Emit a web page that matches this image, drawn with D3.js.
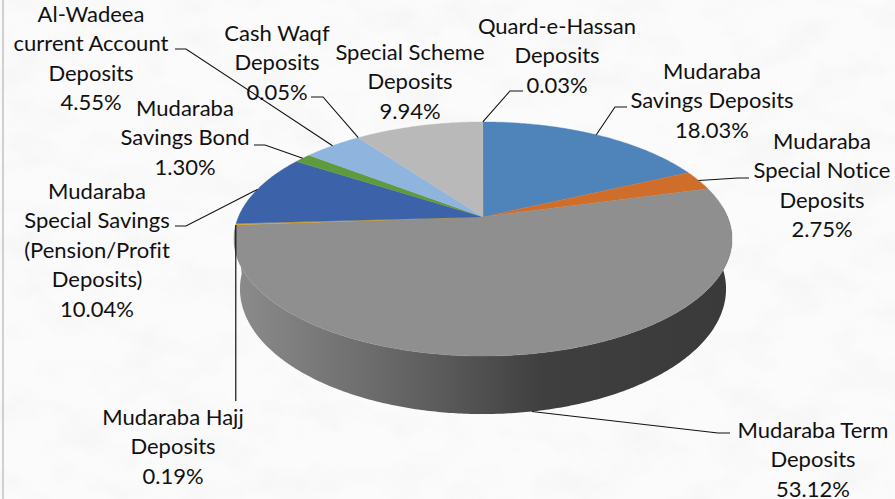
<!DOCTYPE html>
<html>
<head>
<meta charset="utf-8">
<script src="https://cdn.jsdelivr.net/npm/d3@7"></script>
<style>html,body{margin:0;padding:0;background:#fff;overflow:hidden}svg{display:block}text{font-variant-ligatures:none}</style>
</head>
<body>
<svg id="c" width="895" height="499"></svg>
<script>
const categories = ["Mudaraba Savings Deposits","Mudaraba Special Notice Deposits","Mudaraba Term Deposits","Mudaraba Hajj Deposits","Mudaraba Special Savings (Pension/Profit Deposits)","Mudaraba Savings Bond","Al-Wadeea current Account Deposits","Cash Waqf Deposits","Special Scheme Deposits","Quard-e-Hassan Deposits"];
const values = [18.03,2.75,53.12,0.19,10.04,1.30,4.55,0.05,9.94,0.03];
const colors = ["#4f84ba","#cf6e2a","#8f8f8f","#dca21f","#3c63a9","#5f9b3e","#8fb4de","#a9b6c8","#b9b9b9","#b9b9b9"];
const labelLines = [
  ["Mudaraba","Savings Deposits","18.03%"],
  ["Mudaraba","Special Notice","Deposits","2.75%"],
  ["Mudaraba Term","Deposits","53.12%"],
  ["Mudaraba Hajj","Deposits","0.19%"],
  ["Mudaraba","Special Savings","(Pension/Profit","Deposits)","10.04%"],
  ["Mudaraba","Savings Bond","1.30%"],
  ["Al-Wadeea","current Account","Deposits","4.55%"],
  ["Cash Waqf","Deposits","0.05%"],
  ["Special Scheme","Deposits","9.94%"],
  ["Quard-e-Hassan","Deposits","0.03%"]
];
// layout only: label centre x, first-line centre y, leader start x, elbow x, elbow y
const labelLayout = [
  [712,71,627,615,107],
  [822,141,749,738,178],
  [813,430,730,718,433],
  [173,417,null,null,null],
  [97,191,175,186,226],
  [185,108,254,265,145],
  [91,14,175,186,49],
  [277,33,311,323,97],
  [410,52,null,null,null],
  [557,26,523,510,91]
];

const svg = d3.select("#c");
const defs = svg.append("defs");

// Perspective view of a flat disc
const persp = -0.188;
const topRim = {x0:483, y0:217, bx:244.6, by:112.9};
const lowRim = {x0:483, y0:265.4, bx:238.7, by:120.7};
function project(a, rim, r=1){
  const X = r*Math.sin(a), Y = -r*Math.cos(a), w = 1 + persp*Y;
  return [rim.x0 + rim.bx*X/w, rim.y0 + rim.by*Y/w];
}
const pie = d3.pie().sort(null).value(d=>d)(values);
function arcPts(a0,a1,rim){
  const n = Math.max(2, Math.ceil((a1-a0)/0.01));
  return d3.range(n+1).map(i=>project(a0+(a1-a0)*i/n,rim));
}
const line = d3.line();

// background
const bgFilter = defs.append("filter").attr("id","paper").attr("x",0).attr("y",0).attr("width","100%").attr("height","100%");
bgFilter.append("feTurbulence").attr("type","fractalNoise").attr("baseFrequency","0.018 0.03").attr("numOctaves",4).attr("seed",7);
bgFilter.append("feColorMatrix").attr("type","matrix").attr("values","0 0 0 0 0.80  0 0 0 0 0.80  0 0 0 0 0.80  1.1 0 0 0 -0.48");
svg.append("rect").attr("width",895).attr("height",499).attr("fill","#fbfbfb");
svg.append("rect").attr("width",895).attr("height",499).attr("filter","url(#paper)").attr("opacity",0.55);
svg.append("rect").attr("x",3).attr("y",-2).attr("width",900).attr("height",510).attr("fill","none").attr("stroke","#a6a6a6").attr("stroke-width",1);

// wall
const grad = defs.append("linearGradient").attr("id","wall").attr("gradientUnits","userSpaceOnUse").attr("x1",235).attr("x2",731).attr("y1",0).attr("y2",0);
[[0,"#8c8c8c"],[0.25,"#6f6f6f"],[0.45,"#565656"],[0.62,"#3f3f3f"],[1,"#3a3a3a"]].forEach(s=>grad.append("stop").attr("offset",s[0]).attr("stop-color",s[1]));
const term = pie[2];
const rightA = Math.PI*0.47;
const wallTop = arcPts(rightA, term.endAngle, topRim);
const wallLow = arcPts(rightA, term.endAngle, lowRim).reverse();
svg.append("path").attr("d",line(wallTop.concat(wallLow))+"Z").attr("fill","url(#wall)");

// top face
const apex = project(0,topRim,0);
svg.append("g").selectAll("path").data(pie).join("path")
  .attr("d",d=>line([apex].concat(arcPts(d.startAngle,d.endAngle,topRim)))+"Z")
  .attr("fill",(d,i)=>colors[i])
  .attr("stroke",(d,i)=>colors[i])
  .attr("stroke-width",(d,i)=>d.value<0.1?0:0.4);

// leader lines
const lg = svg.append("g").attr("fill","none").attr("stroke","#111").attr("stroke-width",1.1);
pie.forEach((d,i)=>{
  const L = labelLayout[i], mid=(d.startAngle+d.endAngle)/2;
  if(L[2]===null && i!==3) return;
  if(i===3){
    const p=project(d.startAngle,topRim);
    lg.append("path").attr("d",line([p,[p[0],401]])).attr("stroke-width",1.2);
    return;
  }
  const end = project(mid, i===2?lowRim:topRim);
  lg.append("path").attr("d",line([[L[2],L[4]],[L[3],L[4]],end]));
});

// labels
const lineH = 29.4;
const tg = svg.append("g").attr("font-family","Lato, Carlito, sans-serif").attr("font-size",22).attr("fill","#111").attr("text-anchor","middle");
labelLines.forEach((ls,i)=>{
  const L=labelLayout[i];
  ls.forEach((t,j)=>tg.append("text").attr("x",L[0]).attr("y",L[1]+j*lineH).attr("dy","0.36em").text(t));
});
</script>
</body>
</html>
